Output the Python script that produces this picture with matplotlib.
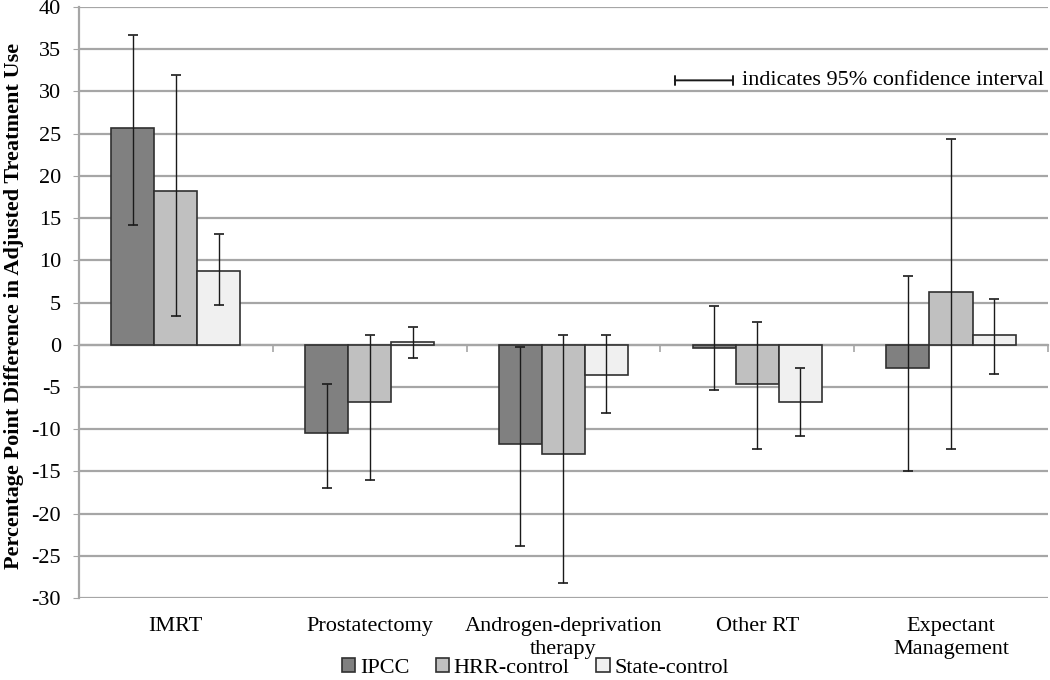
import numpy as np
import matplotlib
matplotlib.use("Agg")
import matplotlib.pyplot as plt

# Data
categories = ["IMRT", "Prostatectomy", "Androgen-deprivation\ntherapy", "Other RT", "Expectant\nManagement"]
series_names = ["IPCC", "HRR-control", "State-control"]

ipcc = [25.7, -10.5, -11.8, -0.4, -2.8]
ipcc_lo = [14.2, -17.0, -23.9, -5.4, -15.0]
ipcc_hi = [36.7, -4.7, -0.3, 4.6, 8.2]

hrr = [18.2, -6.8, -12.9, -4.7, 6.2]
hrr_lo = [3.4, -16.0, -28.2, -12.3, -12.3]
hrr_hi = [32.0, 1.2, 1.1, 2.7, 24.4]

state = [8.7, 0.3, -3.6, -6.8, 1.2]
state_lo = [4.7, -1.6, -8.1, -10.8, -3.5]
state_hi = [13.1, 2.1, 1.2, -2.7, 5.4]

colors = ["#808080", "#c0c0c0", "#f0f0f0"]

plt.rcParams["font.family"] = ["Liberation Serif", "DejaVu Serif"]
plt.rcParams["axes.unicode_minus"] = False

fig = plt.figure(figsize=(10.5, 6.8), dpi=100)
ax = fig.add_axes([0.0752, 0.1206, 0.9228, 0.869])

x = np.arange(len(categories))
width = 0.222
values = [ipcc, hrr, state]
lows = [ipcc_lo, hrr_lo, state_lo]
highs = [ipcc_hi, hrr_hi, state_hi]

for i in range(3):
    pos = x + (i - 1) * width
    v = np.array(values[i])
    lo = np.array(lows[i])
    hi = np.array(highs[i])
    ax.bar(pos, v, width, color=colors[i], edgecolor="#303030", linewidth=1.2,
           label=series_names[i], zorder=3)
    ax.errorbar(pos, v, yerr=[v - lo, hi - v], fmt="none", ecolor="#1a1a1a",
                elinewidth=1.0, capsize=3.5, capthick=1.2, zorder=4)

ax.set_xlim(-0.5, len(categories) - 0.5)
ax.set_ylim(-30, 40)
ax.set_yticks(np.arange(-30, 41, 5))
ax.yaxis.grid(True, color="#a6a6a6", linewidth=1.6, zorder=0)
ax.set_axisbelow(True)
ax.tick_params(axis="y", labelsize=16, length=4, color="#a6a6a6", pad=9)

for s in ["top", "right"]:
    ax.spines[s].set_visible(False)
ax.spines["left"].set_color("#a6a6a6")
ax.spines["left"].set_linewidth(1.6)

# horizontal axis crossing at zero, ticks between categories
ax.spines["bottom"].set_position(("data", 0))
ax.spines["bottom"].set_color("#a6a6a6")
ax.spines["bottom"].set_linewidth(1.6)
ax.spines["bottom"].set_zorder(2)
ax.set_xticks(np.arange(-0.5, len(categories), 1.0))
ax.set_xticklabels([])
ax.tick_params(axis="x", direction="out", length=5, color="#a6a6a6", width=1.2)

# category labels at the bottom of the plot area
sec = ax.secondary_xaxis(0)
sec.set_xticks(x)
sec.set_xticklabels(categories, fontsize=16, linespacing=1.25)
sec.tick_params(length=0, pad=14)
sec.spines["bottom"].set_visible(False)

ax.set_ylabel("Percentage Point Difference in Adjusted Treatment Use",
              fontsize=16, fontweight="bold")
ax.yaxis.set_label_coords(-0.057, 0.495)

# confidence interval key
ax.annotate("", xy=(0.615, 0.876), xytext=(0.675, 0.876), xycoords="axes fraction",
            arrowprops=dict(arrowstyle="|-|, widthA=0.3, widthB=0.3", color="#1a1a1a", lw=1.4,
                            shrinkA=0, shrinkB=0))
ax.text(0.684, 0.876, "indicates 95% confidence interval", transform=ax.transAxes,
        fontsize=16, va="center", ha="left")

fig.legend(loc="lower center", bbox_to_anchor=(0.51, -0.026), ncol=3, frameon=False,
           fontsize=16, handlelength=0.6, handleheight=0.6, handletextpad=0.2,
           columnspacing=1.2)

fig.savefig("out.png", dpi=100)
